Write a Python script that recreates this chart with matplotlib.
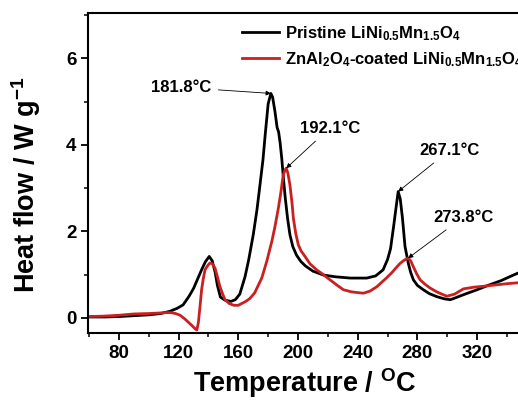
#!/usr/bin/env python3
"""
DSC curves of pristine and ZnAl2O4-coated LiNi0.5Mn1.5O4.
"""
import matplotlib
matplotlib.use("Agg")
import matplotlib.pyplot as plt
from matplotlib.ticker import MultipleLocator

plt.rcParams['font.family'] = ['Liberation Sans', 'DejaVu Sans']
plt.rcParams['font.weight'] = 'bold'
plt.rcParams['mathtext.fontset'] = 'custom'
plt.rcParams['mathtext.bf'] = 'Liberation Sans:bold'
plt.rcParams['mathtext.rm'] = 'Liberation Sans:bold'
plt.rcParams['mathtext.default'] = 'bf'

# pristine LiNi0.5Mn1.5O4
temp_pristine = [60, 70, 80, 90, 100, 108, 114, 119, 123, 127, 130, 133, 135.5,
                 138, 140.5, 142.5, 144.5, 146, 148, 151, 155, 158, 161, 164.5,
                 167, 170, 172.5, 174.5, 176.5, 178, 180, 181.8, 183, 184.6, 186,
                 187, 188, 189.1, 190.3, 191.5, 193, 194.6, 196.5, 199, 202, 205,
                 210, 217, 225, 235, 246, 252, 257, 260, 262, 264, 265.5, 267.1,
                 268.5, 270, 271.7, 273.9, 275.5, 277.3, 280, 284, 288, 293, 298,
                 302, 306, 312, 320, 328, 336, 345, 352]
heat_pristine = [0.02, 0.02, 0.03, 0.05, 0.07, 0.10, 0.15, 0.22, 0.30, 0.50,
                 0.68, 0.92, 1.12, 1.30, 1.42, 1.32, 1.05, 0.75, 0.48, 0.41,
                 0.38, 0.42, 0.55, 0.95, 1.35, 1.92, 2.50, 3.07, 3.65, 4.23,
                 4.95, 5.19, 5.10, 4.76, 4.40, 4.30, 4.05, 3.69, 3.20, 2.76,
                 2.30, 1.92, 1.65, 1.45, 1.30, 1.20, 1.08, 0.99, 0.95, 0.92,
                 0.92, 0.97, 1.11, 1.35, 1.60, 2.10, 2.50, 2.92, 2.75, 2.30,
                 1.65, 1.26, 1.05, 0.88, 0.75, 0.65, 0.56, 0.49, 0.44, 0.42,
                 0.47, 0.55, 0.65, 0.76, 0.86, 1.00, 1.10]

# ZnAl2O4-coated LiNi0.5Mn1.5O4
temp_coated = [60, 70, 80, 90, 100, 106, 111, 115, 118, 121, 124, 126.5, 129,
               131, 132.2, 133.2, 134.3, 135.4, 136.5, 137.7, 139.3, 141, 142.7,
               144.4, 146, 147.7, 149.5, 151.1, 154, 157, 160, 162.2, 165, 167.8,
               171, 175.7, 179, 182.4, 184.5, 186.8, 188.5, 190.1, 191.3, 192.1,
               193.2, 194.6, 196, 196.9, 198.5, 200.2, 202, 204.7, 208, 212.5,
               217, 221.4, 226, 230.4, 236, 243.8, 248.3, 252.8, 256, 259.5,
               263, 266, 268.4, 271, 273.8, 275.5, 277.3, 279.5, 281.8, 285,
               288.5, 293, 299.7, 305, 310.8, 318, 324.2, 332, 340, 347, 352]
heat_coated = [0.03, 0.04, 0.06, 0.09, 0.10, 0.11, 0.12, 0.12, 0.10, 0.06,
               -0.02, -0.10, -0.18, -0.25, -0.28, -0.12, 0.25, 0.65, 0.90,
               1.11, 1.20, 1.27, 1.25, 1.15, 0.95, 0.72, 0.55, 0.42, 0.33,
               0.29, 0.29, 0.33, 0.38, 0.45, 0.58, 0.92, 1.30, 1.76, 2.10,
               2.53, 2.90, 3.30, 3.42, 3.46, 3.35, 3.07, 2.65, 2.30, 1.95,
               1.69, 1.55, 1.42, 1.25, 1.11, 1.00, 0.88, 0.76, 0.65, 0.60,
               0.57, 0.62, 0.72, 0.82, 0.93, 1.05, 1.17, 1.26, 1.33, 1.38,
               1.32, 1.18, 1.02, 0.88, 0.78, 0.69, 0.60, 0.50, 0.55, 0.67,
               0.71, 0.73, 0.76, 0.79, 0.81, 0.83]

labels = ['Pristine LiNi$_{0.5}$Mn$_{1.5}$O$_4$',
          'ZnAl$_2$O$_4$-coated LiNi$_{0.5}$Mn$_{1.5}$O$_4$']
peak_temps = [181.8, 192.1, 267.1, 273.8]
peak_heats = [5.19, 3.46, 2.92, 1.38]
peak_labels = ['181.8°C', '192.1°C', '267.1°C', '273.8°C']

RED = '#cc1f1f'

fig = plt.figure(figsize=(5.18, 4.01), dpi=100)
# axes deliberately runs just past the right edge, as in the reference
ax = fig.add_axes([0.1705, 0.1696, 0.837, 0.798])

ax.plot(temp_pristine, heat_pristine, color='black', lw=2.0, label=labels[0])
ax.plot(temp_coated, heat_coated, color=RED, lw=2.0, label=labels[1])

ax.set_xlim(59.5, 350)
ax.set_ylim(-0.35, 7.05)
ax.xaxis.set_major_locator(MultipleLocator(40))
ax.xaxis.set_minor_locator(MultipleLocator(20))
ax.yaxis.set_major_locator(MultipleLocator(2))
ax.yaxis.set_minor_locator(MultipleLocator(1))
ax.set_xticks(range(80, 350, 40))
ax.tick_params(which='major', direction='out', length=5, width=1.3,
               labelsize=13.5)
ax.tick_params(which='minor', direction='out', length=3, width=1.1)
for lab in ax.get_xticklabels() + ax.get_yticklabels():
    lab.set_fontweight('bold')
for side in ['left', 'bottom', 'top', 'right']:
    ax.spines[side].set_linewidth(1.5)

ax.set_xlabel('Temperature / $^{\\mathrm{O}}$C', fontsize=19.5, fontweight='bold',
              labelpad=3)
ax.set_ylabel('Heat flow / W g$^{-1}$', fontsize=19.5, fontweight='bold')
ax.yaxis.set_label_coords(-0.104, 0.4625)

# text positions for the peak callouts (x, y, ha)
text_pos = [(142, 5.33, 'right'), (201, 4.39, 'left'),
            (281.5, 3.88, 'left'), (290.5, 2.33, 'left')]
for t, h, s, (tx, ty, ha) in zip(peak_temps, peak_heats, peak_labels, text_pos):
    ax.annotate(s, xy=(t, h), xytext=(tx, ty), ha=ha, va='center',
                fontsize=12, fontweight='bold',
                arrowprops=dict(arrowstyle='-|>', color='black', lw=0.6,
                                mutation_scale=7, shrinkA=3, shrinkB=0))

fig.legend(loc='upper left', bbox_to_anchor=(0.468, 0.94), frameon=False,
           fontsize=12, handlelength=2.2, handletextpad=0.35,
           labelspacing=0.45, borderpad=0, borderaxespad=0)

fig.savefig('out.png', dpi=100)
